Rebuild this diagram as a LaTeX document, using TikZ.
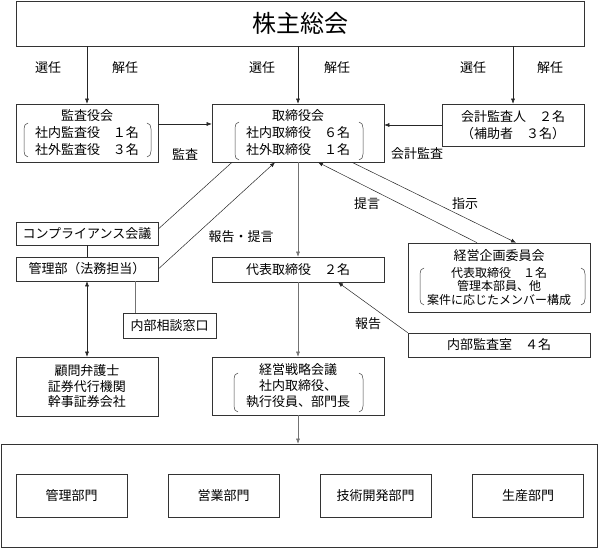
\documentclass[tikz,border=0pt]{standalone}
\usepackage{fontspec}
\setmainfont{Noto Sans CJK JP}
\usetikzlibrary{arrows.meta}

\begin{document}
\begin{tikzpicture}[x=1pt, y=-1pt, >={Latex[length=5pt,width=4pt]},
	font=\fontsize{13}{17}\selectfont,
	box/.style={draw=black!80, line width=0.6pt, align=center, inner sep=0pt},
	paren/.style={black!75, line width=0.5pt},
	link/.style={black!85, line width=0.5pt},
	glink/.style={black!55, line width=0.5pt}]
	\useasboundingbox (0,0) rectangle (598,548);

	\node[box, minimum width=568pt, minimum height=45pt, font=\fontsize{24}{24}\selectfont] (soukai) at (300,23.5) {株主総会};

	\node[box, minimum width=142pt, minimum height=58pt] (kansayaku) at (87,133) {監査役会\\社内監査役　１名\\社外監査役　３名};
	\node[box, minimum width=172pt, minimum height=58pt] (torishimari) at (298,133) {取締役会\\社内取締役　６名\\社外取締役　１名};
	\node[box, minimum width=142pt, minimum height=42pt] (kaikei) at (513,125) {会計監査人　２名\\（補助者　３名）};

	\node[box, minimum width=142pt, minimum height=23pt] (compliance) at (87,233.5) {コンプライアンス会議};
	\node[box, minimum width=142pt, minimum height=24pt] (kanri) at (87,269) {管理部（法務担当）};
	\node[box, minimum width=93pt, minimum height=25pt] (madoguchi) at (169.5,325.5) {内部相談窓口};
	\node[box, minimum width=142pt, minimum height=59pt, font=\fontsize{13}{15.5}\selectfont] (komon) at (87,386.5) {顧問弁護士\\証券代行機関\\幹事証券会社};

	\node[box, minimum width=172pt, minimum height=25pt] (daihyo) at (298,269.5) {代表取締役　２名};
	\node[box, minimum width=172pt, minimum height=58pt, font=\fontsize{13}{16}\selectfont] (senryaku) at (298,386) {経営戦略会議\\社内取締役、\\執行役員、部門長};
	\node[box, minimum width=182pt, minimum height=69pt, font=\fontsize{12}{13.5}\selectfont] (kikaku) at (499,277.5) {{\fontsize{13}{13}\selectfont 経営企画委員会}\\[3.5pt]代表取締役　１名\\管理本部員、他\\案件に応じたメンバー構成};
	\node[box, minimum width=182pt, minimum height=24pt] (naibu) at (499,345) {内部監査室　４名};

	\node[box, minimum width=596pt, minimum height=103pt] (bumon) at (299,495.5) {};
	\node[box, minimum width=111pt, minimum height=43pt] (kanribumon) at (71.5,495.5) {管理部門};
	\node[box, minimum width=111pt, minimum height=43pt] (eigyobumon) at (223.5,495.5) {営業部門};
	\node[box, minimum width=111pt, minimum height=43pt] (gijutsubumon) at (375.5,495.5) {技術開発部門};
	\node[box, minimum width=111pt, minimum height=43pt] (seisanbumon) at (528,495.5) {生産部門};

	\draw[paren] (28,123) to[out=180,in=90] (24,129) -- (24,151) to[out=-90,in=180] (28,157);
	\draw[paren] (147,123) to[out=0,in=90] (151,129) -- (151,151) to[out=-90,in=0] (147,157);
	\draw[paren] (239,122) to[out=180,in=90] (235,128) -- (235,154) to[out=-90,in=180] (239,160);
	\draw[paren] (359,122) to[out=0,in=90] (363,128) -- (363,154) to[out=-90,in=0] (359,160);
	\draw[paren] (424,268) to[out=180,in=90] (420,274) -- (420,299) to[out=-90,in=180] (424,305);
	\draw[paren] (581,268) to[out=0,in=90] (585,274) -- (585,299) to[out=-90,in=0] (581,305);
	\draw[paren] (238,373) to[out=180,in=90] (234,379) -- (234,406) to[out=-90,in=180] (238,412);
	\draw[paren] (359,373) to[out=0,in=90] (363,379) -- (363,406) to[out=-90,in=0] (359,412);

	\draw[link, ->] (soukai.south -| kansayaku.north) -- (kansayaku.north);
	\draw[link, ->] (soukai.south -| torishimari.north) -- (torishimari.north);
	\draw[link, ->] (soukai.south -| kaikei.north) -- (kaikei.north);
	\draw[link, ->] ([yshift=9pt]kansayaku.east) -- ([yshift=9pt]torishimari.west);
	\draw[link, ->] (kaikei.west) -- (kaikei.west -| torishimari.east);

	\draw[link] ([xshift=-66pt]torishimari.south) -- ([yshift=4.5pt]compliance.east);
	\draw[link, ->] (kanri.east) -- ([xshift=-23pt]torishimari.south);
	\draw[link, ->] ([xshift=-22pt]kikaku.north) -- ([xshift=20pt]torishimari.south);
	\draw[link, ->] ([xshift=54pt]torishimari.south) -- ([xshift=17pt]kikaku.north);
	\draw[link, ->] (naibu.north west) -- ([xshift=40pt]daihyo.south);

	\draw[glink, ->] (torishimari.south) -- (daihyo.north);
	\draw[glink, ->] (daihyo.south) -- (senryaku.north);
	\draw[glink, ->] (senryaku.south) -- (senryaku.south |- bumon.north);

	\draw[link] (compliance.south) -- (kanri.north);
	\draw[glink] ([xshift=13pt]madoguchi.north west) -- ([xshift=13pt]madoguchi.north west |- kanri.south);
	\draw[link, <->] (kanri.south) -- (komon.north);

	\node (sennin1) at (48,68) {選任};
	\node (kainin1) at (125,68) {解任};
	\node (sennin2) at (262,68) {選任};
	\node (kainin2) at (337,68) {解任};
	\node (sennin3) at (473,68) {選任};
	\node (kainin3) at (550,68) {解任};
	\node (kansa) at (185,154) {監査};
	\node (kaikeikansa) at (417,154) {会計監査};
	\node (houkokuteigen) at (241,237) {報告・提言};
	\node (teigen) at (367,204) {提言};
	\node (shiji) at (465,204) {指示};
	\node (houkoku) at (368,324) {報告};
\end{tikzpicture}
\end{document}
